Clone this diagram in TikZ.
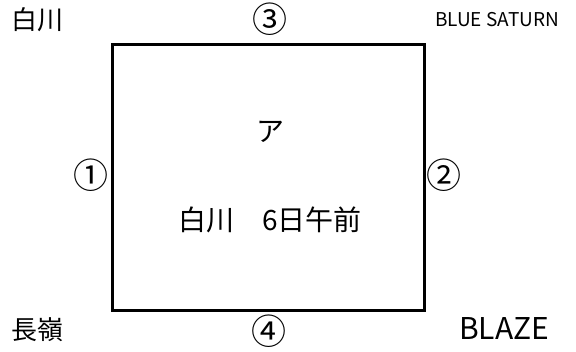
\documentclass[tikz,border=0pt]{standalone}
\usepackage{fontspec}
\setmainfont{Noto Sans CJK JP}
\tikzset{
  lbl/.style={inner sep=0pt, font=\fontsize{26pt}{30pt}\selectfont},
  mid/.style={inner sep=0pt, font=\fontsize{28pt}{32pt}\selectfont},
  circ/.style={inner sep=0pt, font=\fontsize{35pt}{39pt}\selectfont},
  small/.style={inner sep=0pt, font=\fontsize{19pt}{23pt}\selectfont},
  big/.style={inner sep=0pt, font=\fontsize{30pt}{34pt}\selectfont},
  frame/.style={draw, line width=3pt, minimum width=312pt, minimum height=266pt, inner sep=0pt}
}
\begin{document}
\begin{tikzpicture}[x=1pt, y=-1pt]
\useasboundingbox (0,0) rectangle (576,352);
\node[frame] (box) at (268.5,177.5) {};
\node[lbl] (tl) at (37,20) {白川};
\node[circ] (n3) at (270,19) {③};
\node[small] (tr) at (497,20) {BLUE SATURN};
\node[circ] (n1) at (91,175) {①};
\node[circ] (n2) at (444,175) {②};
\node[mid] (a) at (270,132) {ア};
\node[mid] (c) at (270,220) {白川　6日午前};
\node[lbl] (bl) at (37,330) {長嶺};
\node[circ] (n4) at (269,331) {④};
\node[big] (br) at (504,329) {BLAZE};
\end{tikzpicture}
\end{document}
